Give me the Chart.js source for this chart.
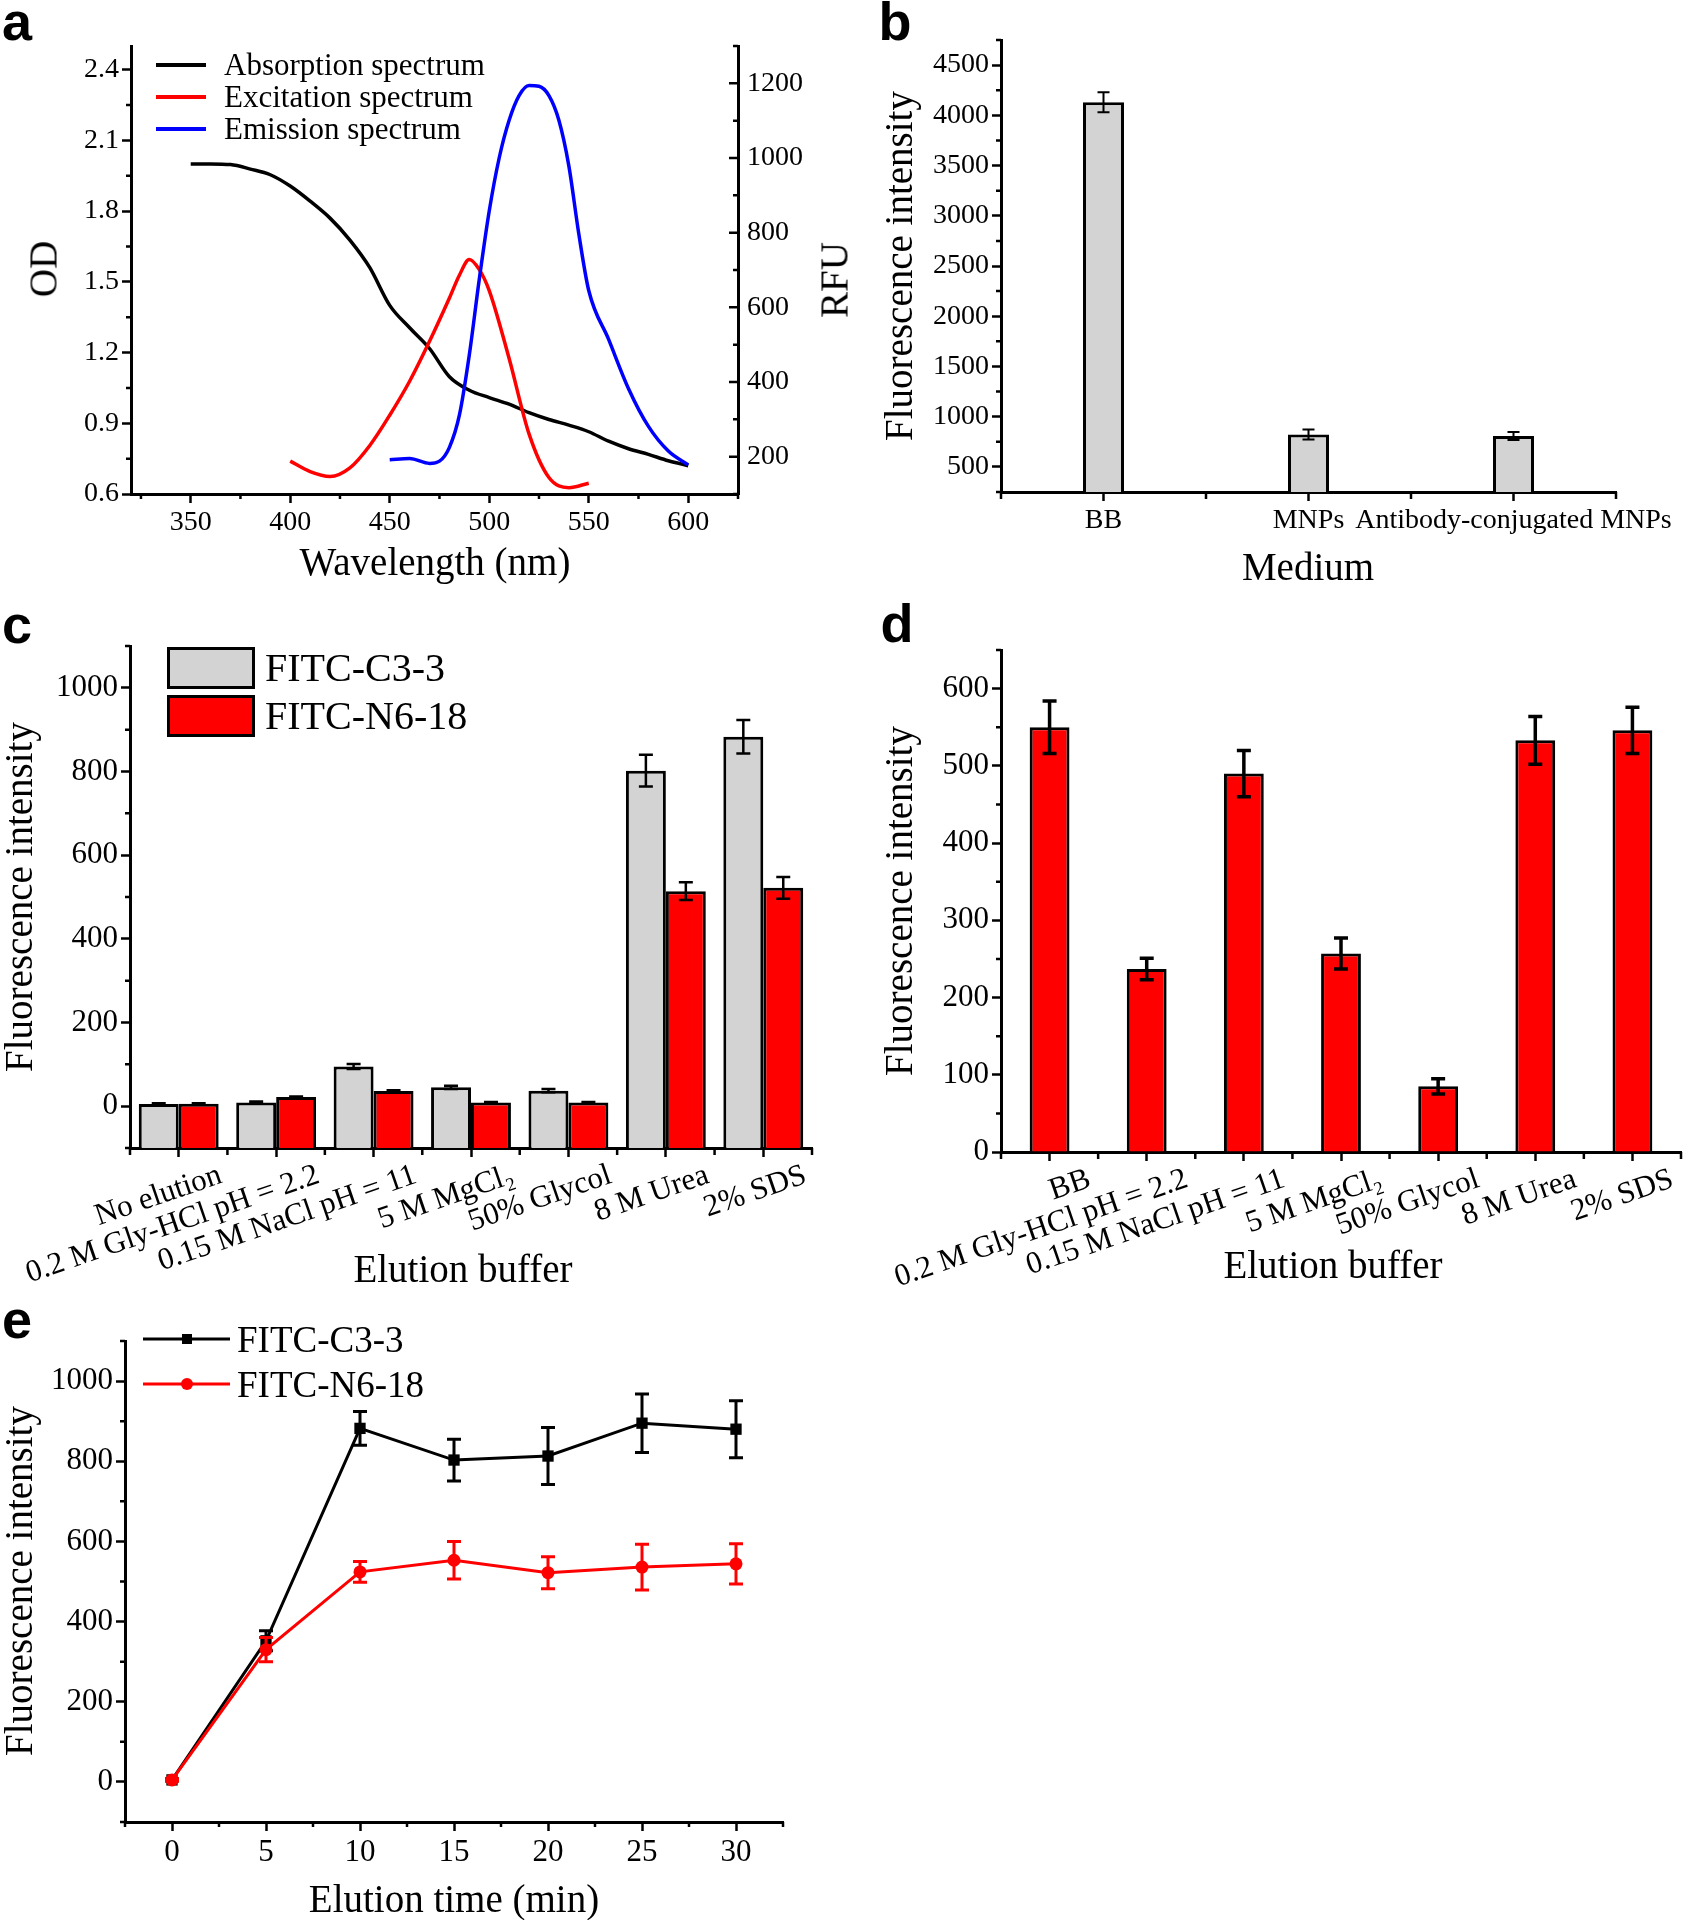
<!DOCTYPE html>
<html>
<head>
<meta charset="utf-8">
<title>FITC labelling / elution figure</title>
<script src="https://cdn.jsdelivr.net/npm/chart.js@4/dist/chart.umd.min.js"></script>
<style>
  body { margin: 0; background: #fff; }
  #fig { position: relative; width: 1690px; height: 1920px; overflow: hidden;
         font-family: "Liberation Serif", "Times New Roman", serif; color: #000; }
  #fig canvas { position: absolute; }
  .t   { position: absolute; white-space: nowrap; line-height: 1; transform: translate(-50%, -50%); }
  .v   { transform: translate(-50%, -50%) rotate(-90deg); }
  .tag { position: absolute; line-height: 1; transform: translate(-50%, -50%);
         font: bold 54px "Liberation Sans", Arial, sans-serif; }
  .lt  { position: absolute; white-space: nowrap; line-height: 1; transform: translateY(-50%); }
  .ln  { position: absolute; transform: translateY(-50%); }
  .box { position: absolute; box-sizing: border-box; border: 3px solid #000; }
  .mk  { position: absolute; transform: translate(-50%, -50%); }
</style>
</head>
<body>
<div id="fig">
  <canvas id="ca" width="880" height="600" style="left:0;top:0"></canvas>
  <canvas id="cb" width="810" height="600" style="left:880px;top:0"></canvas>
  <canvas id="cc" width="860" height="700" style="left:0;top:600px"></canvas>
  <canvas id="cd" width="830" height="700" style="left:860px;top:600px"></canvas>
  <canvas id="ce" width="860" height="620" style="left:0;top:1300px"></canvas>

  <!-- a -->
  <div class="tag" style="left:17px;top:21px">a</div>
  <div class="t v" style="left:43px;top:269px;font-size:39px">OD</div>
  <div class="t v" style="left:834px;top:280px;font-size:39px">RFU</div>
  <div class="t" style="left:435px;top:561px;font-size:39px">Wavelength (nm)</div>
  <div class="ln" style="left:156px;top:65px;width:50px;height:4px;background:#000"></div>
  <div class="lt" style="left:224px;top:64px;font-size:31px">Absorption spectrum</div>
  <div class="ln" style="left:156px;top:97px;width:50px;height:4px;background:#ff0000"></div>
  <div class="lt" style="left:224px;top:96px;font-size:31px">Excitation spectrum</div>
  <div class="ln" style="left:156px;top:129px;width:50px;height:4px;background:#0000ff"></div>
  <div class="lt" style="left:224px;top:128px;font-size:31px">Emission spectrum</div>

  <!-- b -->
  <div class="tag" style="left:895px;top:21px">b</div>
  <div class="t v" style="left:898px;top:266px;font-size:39px">Fluorescence intensity</div>
  <div class="t" style="left:1308px;top:566px;font-size:39px">Medium</div>

  <!-- c -->
  <div class="tag" style="left:17px;top:624px">c</div>
  <div class="t v" style="left:18px;top:897px;font-size:39px">Fluorescence intensity</div>
  <div class="t" style="left:463px;top:1268px;font-size:39px">Elution buffer</div>
  <div class="box" style="left:167px;top:647px;width:88px;height:42px;background:#d3d3d3"></div>
  <div class="lt" style="left:265px;top:668px;font-size:40px">FITC-C3-3</div>
  <div class="box" style="left:167px;top:695px;width:88px;height:42px;background:#ff0000"></div>
  <div class="lt" style="left:265px;top:716px;font-size:40px">FITC-N6-18</div>

  <!-- d -->
  <div class="tag" style="left:897px;top:623px">d</div>
  <div class="t v" style="left:898px;top:901px;font-size:39px">Fluorescence intensity</div>
  <div class="t" style="left:1333px;top:1264px;font-size:39px">Elution buffer</div>

  <!-- e -->
  <div class="tag" style="left:17px;top:1319px">e</div>
  <div class="t v" style="left:18px;top:1581px;font-size:39px">Fluorescence intensity</div>
  <div class="t" style="left:454px;top:1898px;font-size:39px">Elution time (min)</div>
  <div class="ln" style="left:143px;top:1339px;width:87px;height:3px;background:#000"></div>
  <div class="mk" style="left:187px;top:1339px;width:10px;height:10px;background:#000"></div>
  <div class="lt" style="left:237px;top:1339px;font-size:37px">FITC-C3-3</div>
  <div class="ln" style="left:143px;top:1384px;width:87px;height:3px;background:#ff0000"></div>
  <div class="mk" style="left:187px;top:1384px;width:12px;height:12px;border-radius:50%;background:#ff0000"></div>
  <div class="lt" style="left:237px;top:1384px;font-size:37px">FITC-N6-18</div>
</div>

<script>
// ── Data: a (spectra) ─────────────────────────────────────
const absWl  = [350, 360, 370, 380, 390, 400, 410, 420, 430, 440, 450, 460, 470,
                480, 490, 500, 510, 520, 530, 540, 550, 560, 570, 580, 590, 600];
const absOD  = [2.00, 2.00, 1.997, 1.978, 1.954, 1.906, 1.842, 1.77, 1.677, 1.56, 1.40, 1.305, 1.217,
                1.097, 1.04, 1.009, 0.981, 0.945, 0.916, 0.892, 0.864, 0.824, 0.792, 0.768, 0.741, 0.72];
const excWl  = [400, 410, 420, 430, 440, 450, 460, 470, 480, 485, 490, 495, 500, 510, 520, 530, 540, 550];
const excRFU = [188, 160, 147, 170, 230, 311, 402, 509, 625, 686, 728, 701, 645, 463, 261, 144, 117, 129];
const emWl   = [450, 460, 470, 475, 480, 485, 490, 495, 500, 505, 510, 515, 520, 525,
                530, 535, 540, 545, 550, 560, 570, 580, 590, 600];
const emRFU  = [192, 195, 182, 188, 225, 311, 473, 675, 858, 1000, 1101, 1167, 1194, 1192,
                1167, 1101, 979, 797, 645, 514, 382, 281, 215, 178];
const wlTicks  = [350, 400, 450, 500, 550, 600];
const odTicks  = [0.6, 0.9, 1.2, 1.5, 1.8, 2.1, 2.4];
const rfuTicks = [200, 400, 600, 800, 1000, 1200];

// ── Data: b (medium) ──────────────────────────────────────
const mediumCats = ["BB", "MNPs", "Antibody-conjugated MNPs"];
const mediumVals = [4130, 822, 808];
const mediumErr  = [100, 50, 40];
const mediumTicks = [500, 1000, 1500, 2000, 2500, 3000, 3500, 4000, 4500];

// ── Data: c (two antibodies, elution buffers) ─────────────
const bufferCatsC = ["No elution", "0.2 M Gly-HCl pH = 2.2", "0.15 M NaCl pH = 11",
                     "5 M MgCl\u2082", "50% Glycol", "8 M Urea", "2% SDS"];
const c33Vals  = [5, 9, 95, 45, 37, 802, 883];
const c33Err   = [2, 2, 6, 4, 4, 38, 40];
const n618Vals = [6, 22, 36, 9, 9, 514, 522];
const n618Err  = [1, 1, 2, 1, 1, 21, 26];
const intTicks = [0, 200, 400, 600, 800, 1000];

// ── Data: d (elution buffers) ─────────────────────────────
const bufferCatsD = ["BB", "0.2 M Gly-HCl pH = 2.2", "0.15 M NaCl pH = 11",
                     "5 M MgCl\u2082", "50% Glycol", "8 M Urea", "2% SDS"];
const dVals = [550, 237, 490, 257, 85, 533, 546];
const dErr  = [34, 14, 30, 20, 10, 31, 30];
const dTicks = [0, 100, 200, 300, 400, 500, 600];

// ── Data: e (elution time) ────────────────────────────────
const times     = [0, 5, 10, 15, 20, 25, 30];
const c33Time   = [5, 352, 882, 803, 813, 895, 880];
const c33TimeE  = [3, 25, 42, 52, 71, 73, 71];
const n618Time  = [5, 330, 524, 553, 522, 536, 544];
const n618TimeE = [3, 30, 26, 47, 40, 57, 50];
const timeTicks = [0, 5, 10, 15, 20, 25, 30];

const FONT = '"Liberation Serif", "Times New Roman", serif';
const xy = (xs, ys) => xs.map((x, i) => ({ x, y: ys[i] }));

// ── Plugin: minor ticks / inward ticks (Origin look) ─────
const originTicks = {
  id: "originTicks",
  afterDraw(chart, args, opts) {
    const ctx = chart.ctx;
    ctx.save();
    ctx.strokeStyle = "#000";
    ctx.lineWidth = 2.5;
    Object.entries(opts.axes || {}).forEach(([id, cfg]) => {
      const s = chart.scales[id];
      const marks = [];
      if (cfg.cat) {
        for (let i = 0; i <= s.getLabels().length; i++) marks.push([s.getPixelForValue(i - 0.5), 7]);
      } else {
        const major = s.ticks.map(t => t.value);
        const k0 = Math.ceil(s.min / cfg.minor - 1e-6), k1 = Math.floor(s.max / cfg.minor + 1e-6);
        for (let k = k0; k <= k1; k++) {
          const v = k * cfg.minor;
          const isMajor = major.some(m => Math.abs(m - v) < cfg.minor / 10);
          if (isMajor && !cfg.inward) continue;
          marks.push([s.getPixelForValue(v), isMajor ? 9 : 5]);
        }
      }
      ctx.beginPath();
      marks.forEach(([p, len]) => {
        if (s.isHorizontal()) { ctx.moveTo(p, s.top); ctx.lineTo(p, s.top + len); }
        else if (s.position === "left") { ctx.moveTo(s.right, p); ctx.lineTo(s.right - len, p); }
        else { ctx.moveTo(s.left, p); ctx.lineTo(s.left + (cfg.inward ? -len : len), p); }
      });
      ctx.stroke();
    });
    ctx.restore();
  }
};

// ── Plugin: error bars from dataset.errors ───────────────
const errorBars = {
  id: "errorBars",
  afterDatasetDraw(chart, args) {
    const ds = chart.data.datasets[args.index];
    if (!ds.errors) return;
    const ys = chart.scales[args.meta.yAxisID];
    const ctx = chart.ctx;
    const cap = ds.errorCap || 12;
    ctx.save();
    ctx.strokeStyle = ds.errorColor || "#000";
    ctx.lineWidth = ds.errorWidth || 2;
    args.meta.data.forEach((el, i) => {
      const err = ds.errors[i];
      if (!err) return;
      const raw = ds.data[i];
      const val = typeof raw === "object" ? raw.y : raw;
      const top = ys.getPixelForValue(val + err);
      const bot = ys.getPixelForValue(val - err);
      ctx.beginPath();
      ctx.moveTo(el.x, top); ctx.lineTo(el.x, bot);
      ctx.moveTo(el.x - cap / 2, top); ctx.lineTo(el.x + cap / 2, top);
      ctx.moveTo(el.x - cap / 2, bot); ctx.lineTo(el.x + cap / 2, bot);
      ctx.stroke();
    });
    ctx.restore();
  }
};

// ── Axis builders ─────────────────────────────────────────
function linAxis({ position = "bottom", min, max, ticks, size, fmt, inward, fontSize = 28 }) {
  const vertical = position === "left" || position === "right";
  return {
    type: "linear", position, min, max,
    border: { color: "#000", width: 3 },
    grid: { drawOnChartArea: false, drawTicks: !inward, tickLength: 9, tickWidth: 2.5, tickColor: "#000" },
    ticks: {
      color: "#000", font: { family: FONT, size: fontSize }, padding: inward ? 9 : 3,
      autoSkip: false, maxRotation: 0, callback: fmt || (v => String(v))
    },
    afterBuildTicks: s => { s.ticks = ticks.map(value => ({ value })); },
    afterFit: s => { if (vertical) s.width = size; else s.height = size; }
  };
}

function catAxis({ size, rotation = 0, labelOffset = 0, fontSize = 28, padding = 3 }) {
  return {
    type: "category", position: "bottom", offset: true,
    border: { color: "#000", width: 3 },
    grid: { drawOnChartArea: false, drawTicks: true, tickLength: 9, tickWidth: 2.5, tickColor: "#000", offset: false },
    ticks: {
      color: "#000", font: { family: FONT, size: fontSize }, padding, autoSkip: false,
      minRotation: rotation, maxRotation: rotation, labelOffset
    },
    afterFit: s => { s.height = size; }
  };
}

function baseOpts(padding, axes, scales) {
  return {
    responsive: false,
    animation: false,
    layout: { padding },
    plugins: { legend: { display: false }, tooltip: { enabled: false }, originTicks: { axes } },
    scales
  };
}

// ── a: spectra ────────────────────────────────────────────
const spec = (data, color, axis, order) => ({
  data, yAxisID: axis, borderColor: color, borderWidth: 3.5, pointRadius: 0,
  cubicInterpolationMode: "monotone", fill: false, order
});
new Chart(document.getElementById("ca"), {
  type: "line",
  data: { datasets: [
    spec(xy(absWl, absOD), "#000000", "y", 2),
    spec(xy(excWl, excRFU), "#ff0000", "y1", 1),
    spec(xy(emWl, emRFU), "#0000ff", "y1", 0)
  ] },
  options: baseOpts({ top: 46, left: 0, right: 0, bottom: 0 },
    { x: { minor: 25 }, y: { minor: 0.15 }, y1: { minor: 100, inward: true } },
    {
      x:  linAxis({ min: 320, max: 625, ticks: wlTicks, size: 106 }),
      y:  linAxis({ position: "left", min: 0.6, max: 2.5, ticks: odTicks, size: 131, fmt: v => v.toFixed(1) }),
      y1: linAxis({ position: "right", min: 100, max: 1300, ticks: rfuTicks, size: 142, inward: true })
    }),
  plugins: [originTicks, errorBars]
});

// ── b: medium ─────────────────────────────────────────────
new Chart(document.getElementById("cb"), {
  type: "bar",
  data: {
    labels: mediumCats,
    datasets: [{
      data: mediumVals, errors: mediumErr, errorCap: 12, errorWidth: 2,
      backgroundColor: "#d3d3d3", borderColor: "#000", borderWidth: 3,
      base: 250, barPercentage: 0.2, categoryPercentage: 1
    }]
  },
  options: baseOpts({ top: 40, left: 0, right: 74, bottom: 0 },
    { x: { cat: true }, y: { minor: 250 } },
    {
      x: catAxis({ size: 108 }),
      y: linAxis({ position: "left", min: 250, max: 4750, ticks: mediumTicks, size: 121 })
    }),
  plugins: [originTicks, errorBars]
});

// ── c: FITC-C3-3 vs FITC-N6-18 ───────────────────────────
const barC = (data, errors, color) => ({
  data, errors, errorCap: 14, errorWidth: 2.5,
  backgroundColor: color, borderColor: "#000", borderWidth: 3,
  base: -100, barPercentage: 1, categoryPercentage: 0.82
});
new Chart(document.getElementById("cc"), {
  type: "bar",
  data: {
    labels: bufferCatsC,
    datasets: [barC(c33Vals, c33Err, "#d3d3d3"), barC(n618Vals, n618Err, "#ff0000")]
  },
  options: baseOpts({ top: 46, left: 0, right: 48, bottom: 0 },
    { x: { cat: true }, y: { minor: 100 } },
    {
      x: catAxis({ size: 152, rotation: 19, labelOffset: 42, fontSize: 31, padding: 0 }),
      y: linAxis({ position: "left", min: -100, max: 1100, ticks: intTicks, size: 130, fontSize: 31 })
    }),
  plugins: [originTicks, errorBars]
});

// ── d: elution buffers ────────────────────────────────────
new Chart(document.getElementById("cd"), {
  type: "bar",
  data: {
    labels: bufferCatsD,
    datasets: [{
      data: dVals, errors: dErr, errorCap: 14, errorWidth: 3.5,
      backgroundColor: "#ff0000", borderColor: "#000", borderWidth: 3,
      base: 0, barPercentage: 0.41, categoryPercentage: 1
    }]
  },
  options: baseOpts({ top: 50, left: 0, right: 9, bottom: 0 },
    { x: { cat: true }, y: { minor: 50 } },
    {
      x: catAxis({ size: 148, rotation: 19, labelOffset: 40, fontSize: 31, padding: 0 }),
      y: linAxis({ position: "left", min: 0, max: 650, ticks: dTicks, size: 141, fontSize: 31 })
    }),
  plugins: [originTicks, errorBars]
});

// ── e: elution time ───────────────────────────────────────
const series = (data, errors, color, style, radius, order) => ({
  data, errors, errorColor: color, errorCap: 14, errorWidth: 3,
  borderColor: color, borderWidth: 3, pointStyle: style, pointRadius: radius,
  pointBackgroundColor: color, pointBorderColor: color, pointBorderWidth: 0,
  tension: 0, fill: false, order
});
new Chart(document.getElementById("ce"), {
  type: "line",
  data: { datasets: [
    series(xy(times, c33Time), c33TimeE, "#000000", "rect", 8, 1),
    series(xy(times, n618Time), n618TimeE, "#ff0000", "circle", 6.5, 0)
  ] },
  options: baseOpts({ top: 41, left: 0, right: 77, bottom: 0 },
    { x: { minor: 2.5 }, y: { minor: 100 } },
    {
      x: linAxis({ min: -2.5, max: 32.5, ticks: timeTicks, size: 98, fontSize: 31 }),
      y: linAxis({ position: "left", min: -100, max: 1100, ticks: intTicks, size: 125, fontSize: 31 })
    }),
  plugins: [originTicks, errorBars]
});
</script>
</body>
</html>
